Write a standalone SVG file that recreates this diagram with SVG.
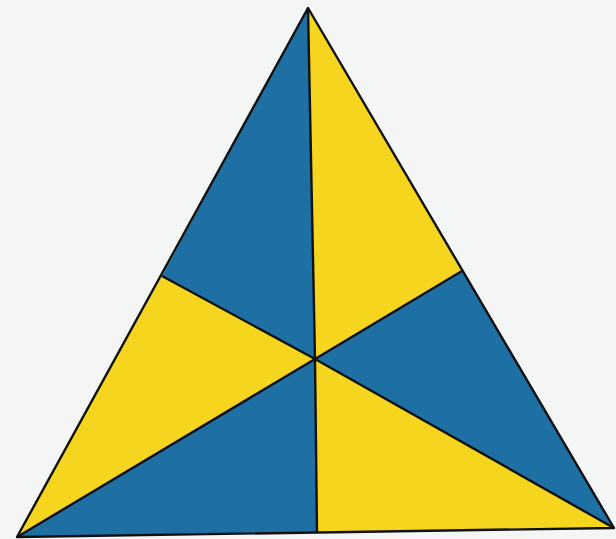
<svg xmlns="http://www.w3.org/2000/svg" width="616" height="539" viewBox="0 0 616 539">
<style>
.b{fill:#1e6fa4}
.y{fill:#f5d51d}
.l{stroke:#111;stroke-width:2.4;fill:none;stroke-linejoin:round}
</style>
<rect width="616" height="539" fill="#f4f6f6"/>
<g id="regions">
<polygon class="b" points="308,8 315,359 162,276"/>
<polygon class="y" points="308,8 462,271 315,359"/>
<polygon class="b" points="462,271 614,528 315,359"/>
<polygon class="y" points="614,528 317,532 315,359"/>
<polygon class="b" points="317,532 17,537 315,359"/>
<polygon class="y" points="17,537 162,276 315,359"/>
</g>
<g id="lines">
<polygon class="l" points="308,8 614,528 17,537"/>
<polyline class="l" points="308,8 315,359 317,532"/>
<polyline class="l" points="162,276 315,359 614,528"/>
<polyline class="l" points="462,271 315,359 17,537"/>
</g>
</svg>
